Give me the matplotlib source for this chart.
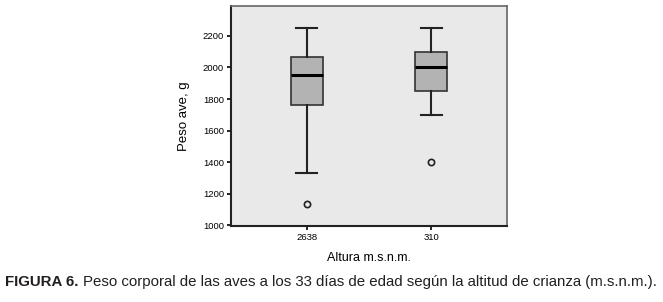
import matplotlib
matplotlib.use("Agg")
import matplotlib.pyplot as plt

# Datos
grupos = ["2638", "310"]
whisk_sup = [2250, 2250]
q3 = [2065, 2100]
mediana = [1952, 2000]
q1 = [1760, 1850]
whisk_inf = [1330, 1700]
atipicos = [[1133], [1400]]

FUENTE = ["Liberation Sans", "DejaVu Sans"]
plt.rcParams["font.family"] = FUENTE

stats = []
for i in range(len(grupos)):
    stats.append({
        "label": grupos[i],
        "whishi": whisk_sup[i],
        "q3": q3[i],
        "med": mediana[i],
        "q1": q1[i],
        "whislo": whisk_inf[i],
        "fliers": atipicos[i],
    })

fig = plt.figure(figsize=(6.63, 3.02), dpi=100)
ax = fig.add_axes([0.3484, 0.2517, 0.4163, 0.7285])
ax.set_facecolor("#e9e9e9")

ax.bxp(stats, positions=[1, 2], widths=0.254, patch_artist=True,
       boxprops=dict(facecolor="#b3b3b3", edgecolor="#333333", linewidth=1.2),
       medianprops=dict(color="black", linewidth=2.2),
       whiskerprops=dict(color="#222222", linewidth=1.5),
       capprops=dict(color="#222222", linewidth=1.5),
       capwidths=0.17,
       flierprops=dict(marker="o", markerfacecolor="none", markeredgecolor="#222222",
                       markersize=4.5, markeredgewidth=1.2))

ax.set_xlim(0.39, 2.61)
ax.set_ylim(995, 2390)
ax.set_yticks([1000, 1200, 1400, 1600, 1800, 2000, 2200])
ax.tick_params(axis="both", labelsize=6.8, length=3, width=1.2, pad=2)

for s in ["left", "bottom"]:
    ax.spines[s].set_color("#222222")
    ax.spines[s].set_linewidth(1.5)
for s in ["top", "right"]:
    ax.spines[s].set_color("#666666")
    ax.spines[s].set_linewidth(1.2)

ax.set_ylabel("Peso ave, g", fontsize=9.5, labelpad=9)
ax.set_xlabel("Altura m.s.n.m.", fontsize=9, labelpad=7)

# Leyenda de la figura: parte en negrita + resto a continuación
t1 = fig.text(0.008, 0.066, "FIGURA 6.", fontsize=10.8, fontweight="bold", color="#231f20",
              ha="left", va="center")
ax.annotate("Peso corporal de las aves a los 33 días de edad según la altitud de crianza (m.s.n.m.).",
            xy=(1, 0.5), xycoords=t1, xytext=(3, 0), textcoords="offset points",
            fontsize=10.8, color="#231f20", ha="left", va="center", annotation_clip=False)

fig.savefig("out.png", dpi=100)
